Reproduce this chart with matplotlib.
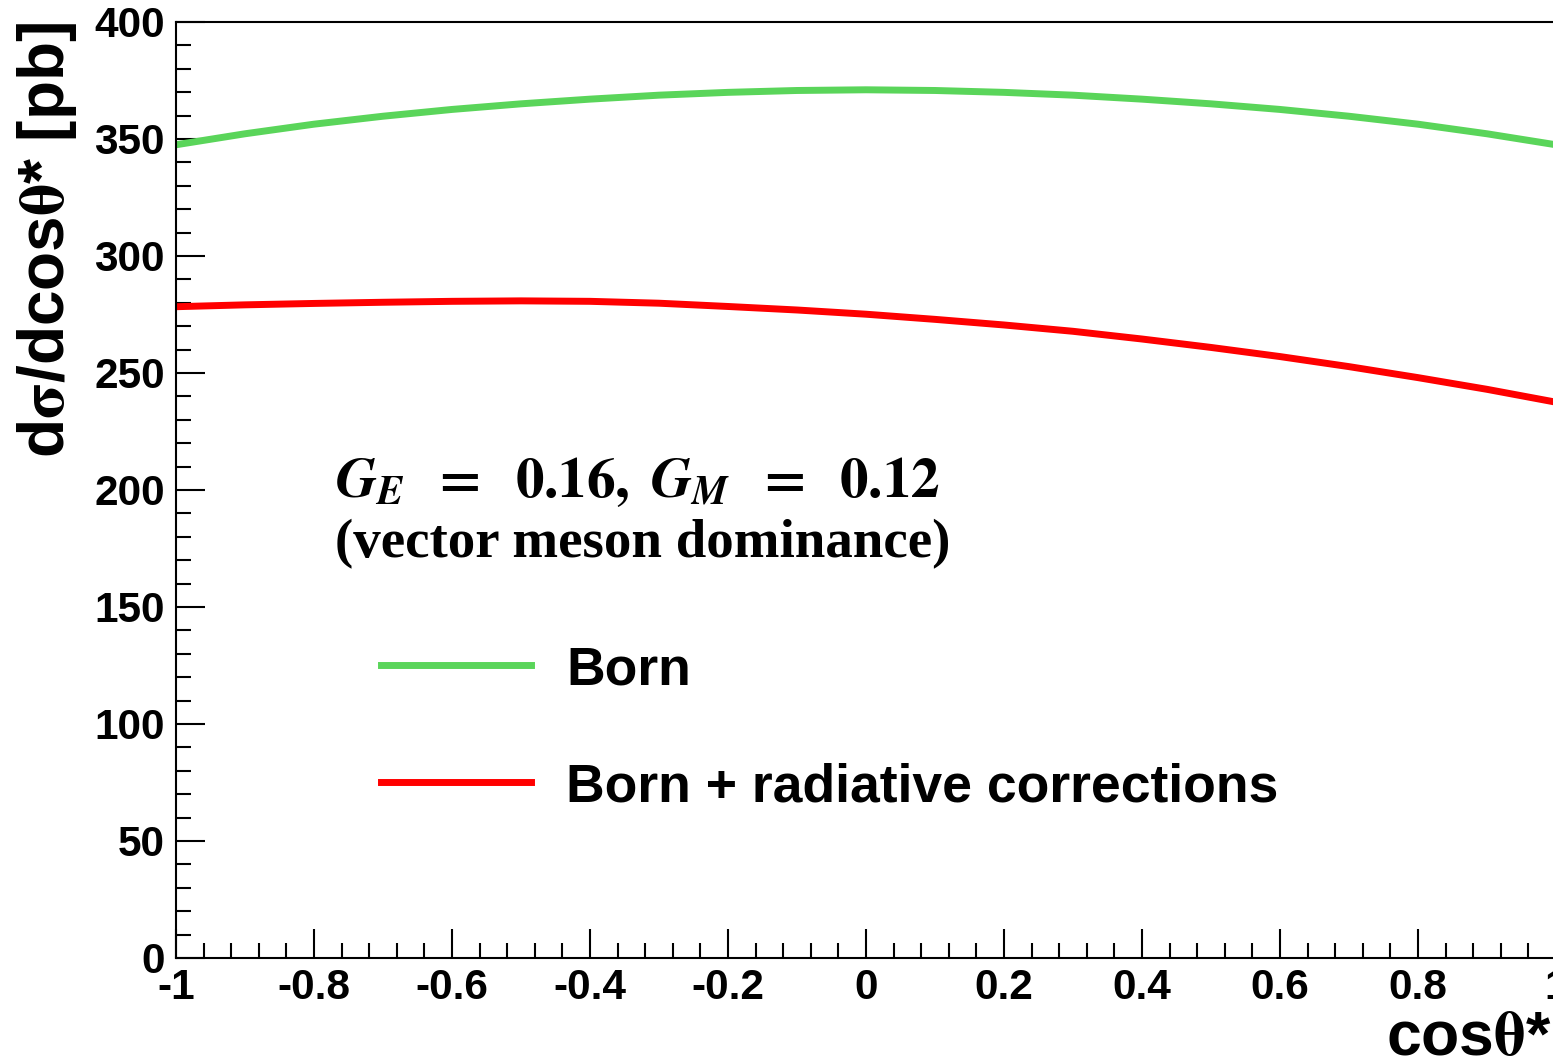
import numpy as np
import matplotlib
matplotlib.use("Agg")
import matplotlib.pyplot as plt
from matplotlib.ticker import MultipleLocator

# angular distribution d(sigma)/dcos(theta*) in pb
cos_theta = [-1.0, -0.9, -0.8, -0.7, -0.6, -0.5, -0.4, -0.3, -0.2, -0.1, 0.0,
             0.1, 0.2, 0.3, 0.4, 0.5, 0.6, 0.7, 0.8, 0.9, 1.0]
born = [347.5, 352.2, 356.3, 359.7, 362.6, 365.0, 367.0, 368.7, 369.9, 370.7, 371.0,
        370.7, 369.9, 368.7, 367.0, 365.0, 362.6, 359.7, 356.3, 352.2, 347.5]
born_rad = [278.3, 279.1, 279.7, 280.2, 280.6, 280.8, 280.6, 279.8, 278.4, 276.9, 275.1,
            272.9, 270.5, 267.8, 264.5, 260.9, 257.0, 252.7, 248.0, 243.0, 237.5]

GREEN = "#5ad55a"
RED = "#ff0000"
SANS = ["Liberation Sans", "DejaVu Sans"]

plt.rcParams["font.family"] = SANS
plt.rcParams["font.weight"] = "bold"

fig = plt.figure(figsize=(15.53, 10.59), dpi=100)
# axes run slightly past the right edge of the canvas
ax = fig.add_axes([0.1133, 0.0954, 0.8886, 0.8839])

x = np.array(cos_theta)
ax.plot(x, born, color=GREEN, lw=5, solid_capstyle="butt")
ax.plot(x, born_rad, color=RED, lw=5, solid_capstyle="butt")

ax.set_xlim(-1, 1)
ax.set_ylim(0, 400)
ax.xaxis.set_minor_locator(MultipleLocator(0.04))
ax.yaxis.set_major_locator(MultipleLocator(50))
ax.yaxis.set_minor_locator(MultipleLocator(10))
ax.set_xticks([-1, -0.8, -0.6, -0.4, -0.2, 0, 0.2, 0.4, 0.6, 0.8, 1])
ax.set_xticklabels(["-1", "-0.8", "-0.6", "-0.4", "-0.2", "0", "0.2", "0.4", "0.6", "0.8", "1"])

ax.tick_params(which="major", direction="in", length=21, width=1.5, labelsize=30.5, pad=7)
ax.tick_params(which="minor", direction="in", length=10.5, width=1.5)
ax.tick_params(axis="y", pad=8)
for lab in ax.get_xticklabels() + ax.get_yticklabels():
    lab.set_fontweight("bold")
for s in ax.spines.values():
    s.set_linewidth(1.5)

# axis titles, ROOT style (right / top aligned)
fig.text(0.030, 1 - 22 / 1059, r"d$\mathrm{\sigma}$/dcos$\mathrm{\theta}$* [pb]",
         rotation=90, ha="center", va="top", fontsize=46, fontweight="bold",
         math_fontfamily="stix")
fig.text(0.999, 4 / 1059, r"cos$\mathrm{\theta}$*", ha="right", va="baseline",
         fontsize=45, fontweight="bold", math_fontfamily="stix")

# form factor annotation
fig.text(335 / 1553, 1 - 497 / 1059,
         r"$\boldsymbol{G_E\;\;=\;\;0.16,\;G_M\;\;=\;\;0.12}$",
         ha="left", va="baseline", fontsize=41, math_fontfamily="stix")
fig.text(335 / 1553, 1 - 557 / 1059, "(vector meson dominance)",
         ha="left", va="baseline", fontsize=39.5, fontweight="bold",
         family=["Liberation Serif", "DejaVu Serif"])

# legend
for ypx, col, label in [(665, GREEN, "Born"), (782, RED, "Born + radiative corrections")]:
    yf = 1 - ypx / 1059
    fig.add_artist(plt.Line2D([381 / 1553, 531 / 1553], [yf, yf], color=col, lw=5,
                              transform=fig.transFigure))
    fig.text(566 / 1553, yf, label, ha="left", va="center_baseline", fontsize=38.5,
             fontweight="bold")

fig.savefig("out.png", dpi=100)
